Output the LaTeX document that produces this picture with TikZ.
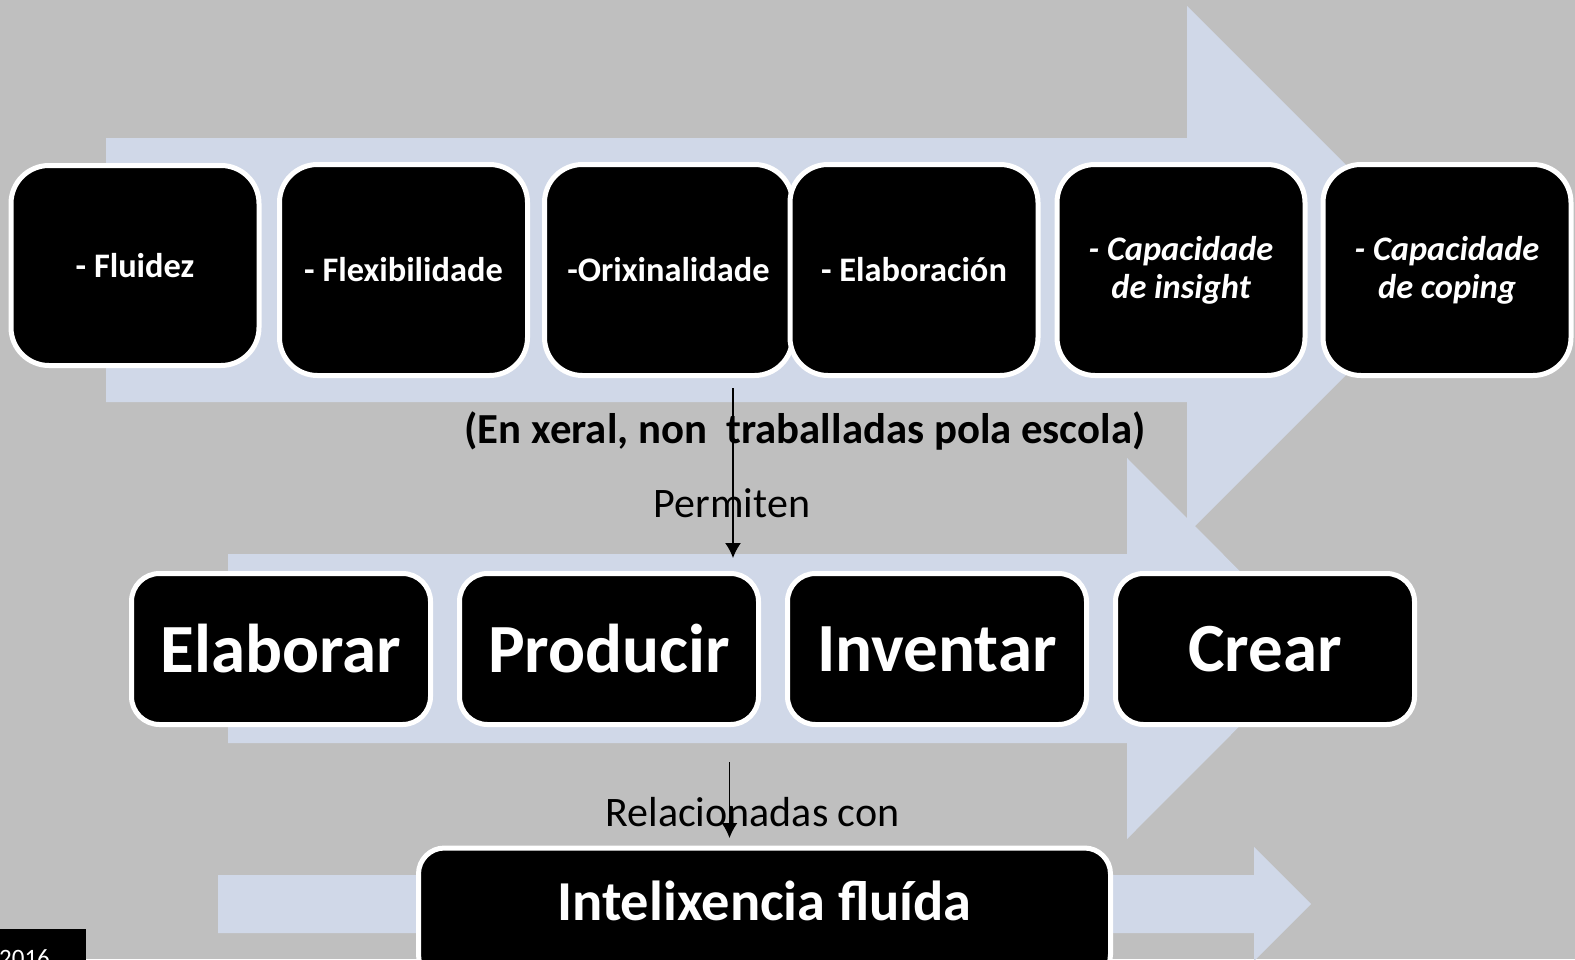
\documentclass[tikz,border=0pt]{standalone}
\usepackage{fontspec}
\setmainfont{Carlito}
\usetikzlibrary{arrows.meta}
\definecolor{slidegray}{HTML}{BFBFBF}
\definecolor{arrowblue}{HTML}{D0D8E8}
\begin{document}
\begin{tikzpicture}[x=1pt,y=-1pt,
    box/.style={draw=white,fill=black,line width=5pt,rounded corners=#1,
        text=white,align=center,inner sep=0pt},
    skillbox/.style={box=38pt,minimum width=248pt,minimum height=211pt,
        font=\fontsize{34.4}{38}\selectfont\bfseries},
    actbox/.style={box=28pt,minimum width=299pt,minimum height=151pt,
        font=\fontsize{69}{72}\selectfont\bfseries},
    link/.style={line width=1.5pt,-{Latex[length=15pt,width=16pt]}},
    note/.style={inner sep=0pt,anchor=base,font=\fontsize{42}{46}\selectfont}]
\useasboundingbox (0,0) rectangle (1575,959);
\clip (0,0) rectangle (1575,959);
\fill[slidegray] (0,0) rectangle (1575,959);

% big background arrows
\fill[arrowblue] (106,138) -- (1187,138) -- (1187,6) -- (1451,270)
    -- (1187,534) -- (1187,402) -- (106,402) -- cycle;
\fill[arrowblue] (228,554) -- (1127,554) -- (1127,458) -- (1317,648.5)
    -- (1127,839) -- (1127,743) -- (228,743) -- cycle;
\fill[arrowblue] (218,875) -- (1254,875) -- (1254,847) -- (1311,904)
    -- (1254,961) -- (1254,933) -- (218,933) -- cycle;

% top row
\node[skillbox,minimum height=200pt] (fluidez) at (135,265.5) {- Fluidez};
\foreach \n/\cx/\lbl in {flexib/403.5/{- Flexibilidade},
        orixin/668.5/{-Orixinalidade},
        elabor/914/{- Elaboración},
        insight/1181/{\itshape - Capacidade\\\itshape de insight},
        coping/1447/{\itshape - Capacidade\\\itshape de coping}}{
    \node[skillbox] (\n) at (\cx,270) {\lbl};
}

% middle row
\foreach \n/\cx/\lbl in {elaborar/281/Elaborar,producir/609/Producir,
        inventar/937/Inventar,crear/1265/Crear}{
    \node[actbox] (\n) at (\cx,649) {\lbl};
}

% bottom
\node[box=26pt,minimum width=692pt,text height=72.5pt,text depth=60pt,
    font=\fontsize{56.4}{60}\selectfont\bfseries,anchor=north]
    (intel) at (764.5,845.5) {Intelixencia fluída};

% labels
\node[note,font=\fontsize{42.8}{46}\selectfont\bfseries] (escola) at (805,443)
    {(En xeral, non\ \ traballadas pola escola)};
\node[note] (permiten) at (732,517) {Permiten};
\node[note] (relac) at (752.5,826) {Relacionadas con};

% connectors
\coordinate (p1) at (733,388);
\coordinate (p2) at (733,558);
\coordinate (q1) at (729.5,762);
\coordinate (q2) at (729.5,838);
\draw[link] (p1) -- (p2);
\draw[link] (q1) -- (q2);

% date stamp
\node[fill=black,anchor=north west,minimum width=86pt,minimum height=40pt,
    inner sep=0pt] (stamp) at (0,929) {};
\node[inner sep=0pt,anchor=base west,text=white,
    font=\fontsize{25}{28}\selectfont] (year) at (-1,966) {2016};
\end{tikzpicture}
\end{document}
